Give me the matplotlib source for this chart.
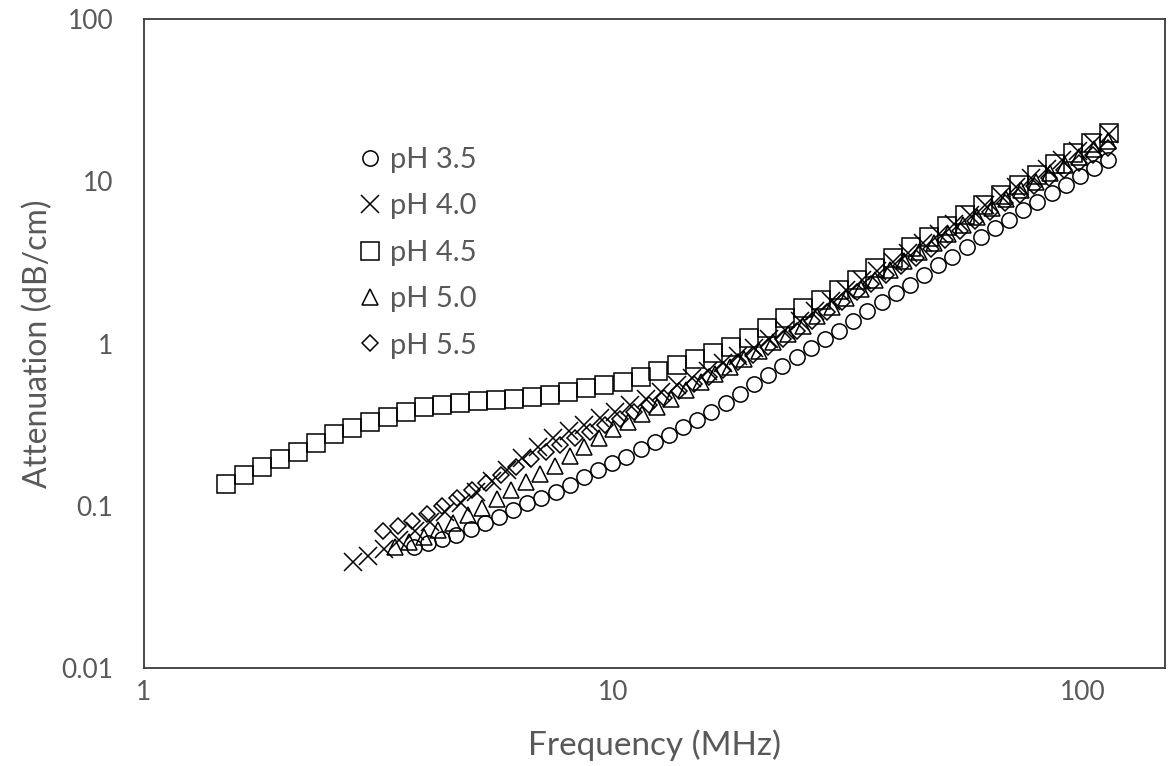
import matplotlib
matplotlib.use("Agg")
import matplotlib.pyplot as plt
from matplotlib.ticker import FixedLocator, FixedFormatter, NullLocator

plt.rcParams['font.family'] = ['Lato', 'DejaVu Sans']

# ---------------- data ----------------
freq_ph35 = [3.760, 4.031, 4.321, 4.632, 4.966, 5.324, 5.707, 6.118, 6.559, 7.032,
             7.538, 8.081, 8.663, 9.287, 9.956, 10.67, 11.44, 12.27, 13.15, 14.10,
             15.11, 16.20, 17.37, 18.62, 19.96, 21.40, 22.94, 24.59, 26.36, 28.26,
             30.30, 32.48, 34.82, 37.33, 40.02, 42.90, 45.99, 49.30, 52.85, 56.66,
             60.74, 65.12, 69.81, 74.84, 80.23, 86.01, 92.20, 98.85, 106.0, 113.6]
att_ph35 = [0.0557, 0.0589, 0.0624, 0.0660, 0.0719, 0.0783, 0.0853, 0.0942, 0.104, 0.112,
            0.122, 0.134, 0.150, 0.166, 0.183, 0.200, 0.224, 0.247, 0.273, 0.305,
            0.338, 0.378, 0.430, 0.489, 0.563, 0.640, 0.726, 0.826, 0.938, 1.066,
            1.194, 1.377, 1.586, 1.802, 2.048, 2.294, 2.643, 3.047, 3.412, 3.935,
            4.53, 5.15, 5.77, 6.65, 7.45, 8.47, 9.48, 10.8, 12.1, 13.5]

freq_ph40 = [2.787, 3.006, 3.242, 3.497, 3.772, 4.069, 4.389, 4.734, 5.106, 5.507,
             5.940, 6.407, 6.911, 7.454, 8.040, 8.672, 9.354, 10.09, 10.88, 11.74,
             12.66, 13.66, 14.73, 15.89, 17.14, 18.48, 19.94, 21.50, 23.19, 25.02,
             26.98, 29.11, 31.40, 33.86, 36.53, 39.40, 42.49, 45.83, 49.44, 53.33,
             57.52, 62.04, 66.92, 72.18, 77.85, 83.97, 90.57, 97.69, 105.4, 113.7]
att_ph40 = [0.0450, 0.0487, 0.0544, 0.0617, 0.0699, 0.0799, 0.0914, 0.1047, 0.1212, 0.1423,
            0.1668, 0.1956, 0.2292, 0.2612, 0.2869, 0.3146, 0.3453, 0.3789, 0.4160, 0.4568,
            0.5017, 0.5541, 0.6111, 0.6779, 0.7541, 0.8399, 0.9434, 1.067, 1.208, 1.370,
            1.586, 1.835, 2.125, 2.448, 2.790, 3.188, 3.638, 4.151, 4.745, 5.429,
            6.212, 7.108, 8.123, 9.231, 10.47, 11.90, 13.49, 15.28, 17.29, 19.55]

freq_ph45 = [1.495, 1.633, 1.784, 1.949, 2.130, 2.327, 2.542, 2.777, 3.034, 3.315,
             3.621, 3.956, 4.322, 4.722, 5.159, 5.636, 6.157, 6.727, 7.349, 8.028,
             8.771, 9.582, 10.47, 11.44, 12.49, 13.65, 14.91, 16.29, 17.80, 19.44,
             21.24, 23.20, 25.35, 27.69, 30.25, 33.05, 36.11, 39.45, 43.10, 47.08,
             51.44, 56.19, 61.39, 67.07, 73.27, 80.05, 87.45, 95.54, 104.4, 114.0]
att_ph45 = [0.136, 0.155, 0.173, 0.194, 0.214, 0.244, 0.277, 0.301, 0.328, 0.352,
            0.378, 0.406, 0.418, 0.430, 0.442, 0.449, 0.455, 0.468, 0.482, 0.502,
            0.532, 0.555, 0.579, 0.622, 0.677, 0.737, 0.802, 0.873, 0.951, 1.081,
            1.246, 1.436, 1.655, 1.854, 2.137, 2.462, 2.919, 3.366, 3.935, 4.53,
            5.30, 6.19, 7.14, 8.23, 9.48, 10.9, 12.8, 14.9, 17.2, 19.8]

freq_ph50 = [3.424, 3.678, 3.950, 4.243, 4.557, 4.895, 5.257, 5.647, 6.065, 6.514,
             6.997, 7.515, 8.072, 8.670, 9.312, 10.00, 10.74, 11.54, 12.39, 13.31,
             14.30, 15.36, 16.49, 17.72, 19.03, 20.44, 21.95, 23.58, 25.33, 27.20,
             29.22, 31.38, 33.71, 36.20, 38.89, 41.77, 44.86, 48.19, 51.76, 55.59,
             59.71, 64.13, 68.88, 73.98, 79.46, 85.35, 91.67, 98.46, 105.8, 113.6]
att_ph50 = [0.0557, 0.0597, 0.0639, 0.0708, 0.0785, 0.0874, 0.0974, 0.1104, 0.1249, 0.1403,
            0.1574, 0.1770, 0.2012, 0.2289, 0.2601, 0.2951, 0.3286, 0.3660, 0.4083, 0.4581,
            0.5140, 0.5767, 0.6451, 0.7206, 0.8048, 0.9042, 1.016, 1.141, 1.287, 1.467,
            1.672, 1.907, 2.171, 2.473, 2.818, 3.211, 3.659, 4.163, 4.717, 5.337,
            6.039, 6.843, 7.739, 8.770, 9.936, 11.23, 12.60, 14.11, 15.81, 17.71]

freq_ph55 = [3.228, 3.471, 3.733, 4.014, 4.317, 4.642, 4.992, 5.368, 5.773, 6.208,
             6.676, 7.179, 7.720, 8.302, 8.928, 9.601, 10.32, 11.10, 11.94, 12.84,
             13.81, 14.85, 15.97, 17.17, 18.47, 19.86, 21.36, 22.97, 24.70, 26.56,
             28.56, 30.71, 33.03, 35.52, 38.19, 41.07, 44.17, 47.50, 51.08, 54.93,
             59.07, 63.52, 68.31, 73.46, 78.99, 84.95, 91.35, 98.24, 105.6, 113.6]
att_ph55 = [0.0699, 0.0752, 0.0808, 0.0887, 0.0991, 0.1109, 0.1242, 0.1381, 0.1547, 0.1735,
            0.1933, 0.2147, 0.2365, 0.2598, 0.2852, 0.3132, 0.3449, 0.3804, 0.4200, 0.4627,
            0.5088, 0.5597, 0.6188, 0.6876, 0.7637, 0.8505, 0.9543, 1.067, 1.196, 1.368,
            1.568, 1.800, 2.063, 2.333, 2.645, 2.991, 3.383, 3.834, 4.363, 4.964,
            5.656, 6.427, 7.302, 8.252, 9.322, 10.52, 11.68, 13.00, 14.43, 16.03]

series_labels = ['pH 3.5', 'pH 4.0', 'pH 4.5', 'pH 5.0', 'pH 5.5']
x_ticks = [1, 10, 100]
x_tick_labels = ['1', '10', '100']
y_ticks = [0.01, 0.1, 1, 10, 100]
y_tick_labels = ['0.01', '0.1', '1', '10', '100']

# ---------------- figure ----------------
W, H = 1174, 766
fig = plt.figure(figsize=(W / 100, H / 100), dpi=100)
L, R, T, B = 144, 1165, 19, 668
ax = fig.add_axes([L / W, 1 - B / H, (R - L) / W, (B - T) / H])
ax.set_xscale('log')
ax.set_yscale('log')
ax.set_xlim(1, 150)
ax.set_ylim(0.01, 100)

styles = [('o', 11, 1.1), ('x', 13, 1.1), ('s', 13, 1.1), ('^', 11, 1.1), ('D', 8.5, 1.1)]
data = [(freq_ph35, att_ph35), (freq_ph40, att_ph40), (freq_ph45, att_ph45),
        (freq_ph50, att_ph50), (freq_ph55, att_ph55)]
for (f, a), lab, (m, ms, mew) in zip(data, series_labels, styles):
    ax.plot(f, a, linestyle='none', marker=m, markersize=ms, markerfacecolor='none',
            markeredgecolor='black', markeredgewidth=mew, label=lab)

ax.xaxis.set_major_locator(FixedLocator(x_ticks))
ax.xaxis.set_major_formatter(FixedFormatter(x_tick_labels))
ax.xaxis.set_minor_locator(NullLocator())
ax.yaxis.set_major_locator(FixedLocator(y_ticks))
ax.yaxis.set_major_formatter(FixedFormatter(y_tick_labels))
ax.yaxis.set_minor_locator(NullLocator())
ax.tick_params(axis='both', length=0, labelsize=19, labelcolor='#595959')
ax.tick_params(axis='x', pad=9)
ax.tick_params(axis='y', pad=22)

for s in ax.spines.values():
    s.set_color('#3a3a3a')
    s.set_linewidth(1.3)

ax.set_xlabel('Frequency (MHz)', fontsize=24, color='#595959')
ax.set_ylabel('Attenuation (dB/cm)', fontsize=23, color='#595959')
ax.xaxis.label.set_va('center')
ax.yaxis.label.set_va('center')
ax.xaxis.set_label_coords(0.5, (B - 745) / (B - T))
ax.yaxis.set_label_coords((38 - L) / (R - L), 0.5)

leg = ax.legend(loc='upper left', bbox_to_anchor=((361 - L) / (R - L), 1 - (147 - T) / (B - T)),
                frameon=False, fontsize=21, borderpad=0, borderaxespad=0, markerscale=1.0,
                handlelength=0.6, handletextpad=0.38, labelspacing=0.7)
for t in leg.get_texts():
    t.set_color('#595959')

fig.savefig('out.png', dpi=100, facecolor='white')
